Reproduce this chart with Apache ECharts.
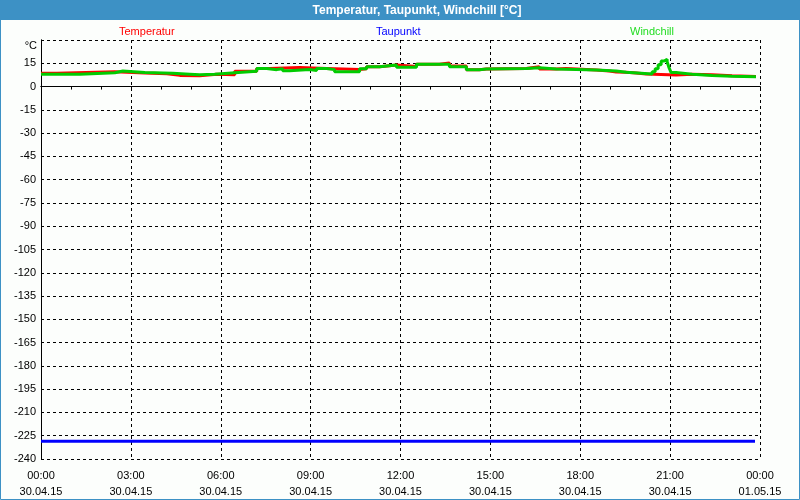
<!DOCTYPE html>
<html>
<head>
<meta charset="utf-8">
<script src="https://cdn.jsdelivr.net/npm/echarts@6/dist/echarts.min.js"></script>
<style>html,body{margin:0;padding:0;background:#fcfefc;}#c{width:800px;height:500px;}</style>
</head>
<body>
<div id="c"></div>
<script>
// Time ticks (every 3 h) and their two-line labels
const timeLabels = ['00:00','03:00','06:00','09:00','12:00','15:00','18:00','21:00','00:00'];
const dateLabels = ['30.04.15','30.04.15','30.04.15','30.04.15','30.04.15','30.04.15','30.04.15','30.04.15','01.05.15'];

// Temperatur (red): minutes since 00:00 30.04.15, °C
const tempMinutes = [0,32,148,208,252,278,318,352,388,432,458,518,572,638,652,678,712,752,798,818,852,878,892,972,998,1032,1052,1112,1138,1152,1172,1192,1212,1272,1304,1344,1384,1432];
const tempValues  = [8.6,9.5,8.7,8.2,7.2,7.0,7.9,7.6,9.8,11.7,12.2,11.7,11.0,11.4,12.8,13.9,13.0,14.4,15.2,13.2,10.9,11.3,11.7,12.8,11.3,11.7,10.6,10.0,9.4,9.2,8.8,8.1,7.4,7.9,7.6,6.9,6.5,6.5];

// Windchill (green)
const wcMinutes = [0,78,148,164,208,264,298,318,348,388,432,452,472,484,498,538,552,572,588,638,652,678,712,752,818,852,878,892,972,998,1032,1112,1152,1172,1224,1230,1236,1242,1248,1254,1258,1262,1272,1304,1344,1384,1432];
const wcValues  = [8.0,8.9,10.0,9.1,8.5,8.0,7.6,7.9,8.9,9.8,11.7,10.9,11.5,10.2,11.0,10.4,11.7,10.9,9.6,11.4,12.8,13.9,12.4,14.4,12.8,10.9,11.3,11.7,12.1,11.3,10.6,10.0,9.2,8.1,9.5,11.5,14.0,16.5,17.6,16.0,12.0,9.0,7.9,7.2,6.7,6.3,6.3];

// Taupunkt (blue)
const dpMinutes = [0,1430];
const dpValues  = [-228.6,-228.6];

const FONT = 'Liberation Sans, Arial, sans-serif';
const zip = (a,b) => a.map((t,i)=>[t,b[i]]);

const chart = echarts.init(document.getElementById('c'), null, {renderer:'canvas'});
const dash = {color:'#000', width:1, type:[3,3]};
chart.setOption({
  animation:false,
  backgroundColor:'#fcfefc',
  textStyle:{fontFamily:FONT},
  graphic:[
    {type:'rect', shape:{x:0,y:0,width:800,height:20}, style:{fill:'#3d91c5'}, z:0},
    {type:'rect', shape:{x:0.5,y:0.5,width:799,height:499}, style:{fill:'none',stroke:'#3d91c5',lineWidth:1}, z:0},
    {type:'text', x:417, y:11, style:{text:'Temperatur, Taupunkt, Windchill [°C]', fill:'#fff', font:'bold 12px '+FONT, textAlign:'center', textVerticalAlign:'middle'}},
    {type:'text', x:37, y:46, style:{text:'°C', fill:'#000', font:'11px '+FONT, textAlign:'right', textVerticalAlign:'middle'}}
  ],
  legend:[
    {data:['Temperatur'], left:109, top:20, icon:'none', itemWidth:0, itemGap:0, textStyle:{color:'#ff0000',fontSize:11,fontFamily:FONT}},
    {data:['Taupunkt'], left:366, top:20, icon:'none', itemWidth:0, itemGap:0, textStyle:{color:'#0000ff',fontSize:11,fontFamily:FONT}},
    {data:['Windchill'], left:620, top:20, icon:'none', itemWidth:0, itemGap:0, textStyle:{color:'#22dd22',fontSize:11,fontFamily:FONT}}
  ],
  grid:{left:41, top:40, width:719, height:419, containLabel:false},
  xAxis:[
    {type:'value', min:0, max:1440, interval:180, offset:2,
     axisLine:{show:true, lineStyle:{color:'#000',width:1}},
     axisTick:{show:true, length:4, lineStyle:{color:'#000'}},
     minorTick:{show:true, splitNumber:3, length:3, lineStyle:{color:'#000'}},
     splitLine:{show:true, lineStyle:dash},
     axisLabel:{color:'#000', fontSize:11, lineHeight:16, margin:7, fontFamily:FONT,
       formatter:(v)=>{const i=Math.round(v/180); return timeLabels[i]+'\n'+dateLabels[i];}}},
    {type:'value', min:0, max:1440, position:'top',
     axisLine:{show:true, lineStyle:{color:'#000',width:1}},
     axisTick:{show:false}, axisLabel:{show:false}, splitLine:{show:false}}
  ],
  yAxis:[
    {type:'value', min:-240, max:30, interval:15,
     axisLine:{show:true, lineStyle:{color:'#000',width:1}},
     axisTick:{show:false},
     splitLine:{show:true, lineStyle:dash},
     axisLabel:{color:'#000', fontSize:11, margin:5, fontFamily:FONT,
       formatter:(v)=> v===30 ? '' : String(v)}},
    {type:'value', min:-240, max:30, position:'right',
     axisLine:{show:true, lineStyle:{color:'#000',width:1}},
     axisTick:{show:false}, axisLabel:{show:false}, splitLine:{show:false}}
  ],
  series:[
    {name:'Temperatur', type:'line', step:'end', showSymbol:false, data:zip(tempMinutes,tempValues),
     lineStyle:{color:'#ff0000', width:3}, itemStyle:{color:'#ff0000'}, z:3},
    {name:'Taupunkt', type:'line', showSymbol:false, data:zip(dpMinutes,dpValues),
     lineStyle:{color:'#0000ff', width:3}, itemStyle:{color:'#0000ff'}, z:3},
    {name:'Windchill', type:'line', step:'end', showSymbol:false, data:zip(wcMinutes,wcValues),
     lineStyle:{color:'#00cc00', width:3}, itemStyle:{color:'#00cc00'}, z:4}
  ]
});
</script>
</body>
</html>
